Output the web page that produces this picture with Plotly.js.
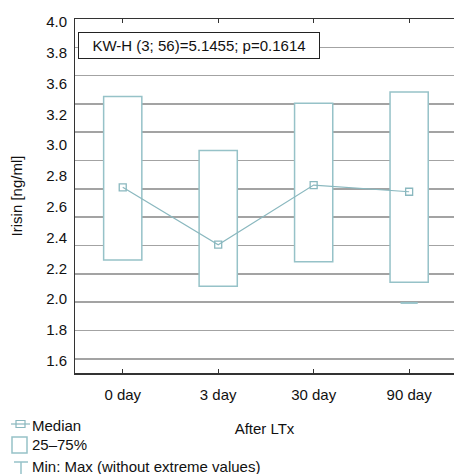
<!DOCTYPE html>
<html>
<head>
<meta charset="utf-8">
<script src="https://cdn.plot.ly/plotly-3.0.1.min.js"></script>
<style>
  html, body { margin: 0; padding: 0; overflow: hidden; background: #fff; }
  #chart { width: 454px; height: 474px; }
</style>
</head>
<body>
<div id="chart"></div>
<script>
// ---- data ----
const categories = ["0 day", "3 day", "30 day", "90 day"];
const q1 = [2.298, 2.113, 2.286, 2.141];      // 25th percentile
const q3 = [3.453, 3.072, 3.405, 3.485];      // 75th percentile
const medians = [2.811, 2.406, 2.827, 2.780];
const whiskerMin = [null, null, null, 1.995]; // only visible cap
const yTickText = ["4.0", "3.8", "3.6", "3.2", "3.0", "2.8", "2.6", "2.4", "2.2", "2.0", "1.8", "1.6"];
// tick-label positions as they appear in the reference (evenly spaced labels)
const yTickVals = [3.979, 3.761, 3.544, 3.326, 3.109, 2.891, 2.674, 2.456, 2.239, 2.021, 1.804, 1.586];
const statText = "KW-H (3; 56)=5.1455; p=0.1614";
const legendLabels = ["Median", "25\u201375%", "Min: Max (without extreme values)"];

// ---- styling ----
const FONT = "'Liberation Sans', Arial, sans-serif";
const FS = 15;
const BOX = "#96c2c8";
const LINE = "#8ab8bf";
const W = 454, H = 474;
const M = {l: 75, r: 0, t: 19, b: 101};
const pw = W - M.l - M.r, ph = H - M.t - M.b;
const px = x => (x - M.l) / pw;
const py = y => (H - M.b - y) / ph;

const xIdx = categories.map((c, i) => i);

const traces = [];
// invisible helper so the label axis (y2) is drawn
traces.push({
  type: "scatter", mode: "markers", x: [xIdx[0]], y: [medians[0]], yaxis: "y2",
  marker: {opacity: 0}, hoverinfo: "skip", showlegend: false
});
traces.push({
  type: "bar",
  x: xIdx,
  base: q1,
  y: q3.map((v, i) => v - q1[i]),
  width: 0.4,
  marker: {color: "#ffffff", line: {color: BOX, width: 1.5}},
  hoverinfo: "skip",
  showlegend: false
});
whiskerMin.forEach((v, i) => {
  if (v === null) return;
  traces.push({
    type: "scatter", mode: "lines",
    x: [i - 0.09, i + 0.09], y: [v, v],
    line: {color: BOX, width: 2},
    hoverinfo: "skip", showlegend: false
  });
});
traces.push({
  type: "scatter",
  mode: "lines+markers",
  x: xIdx,
  y: medians,
  line: {color: LINE, width: 1.2},
  marker: {symbol: "square-open", size: 7, color: LINE, line: {width: 1.3}},
  hoverinfo: "skip",
  showlegend: false
});

const shapes = [
  // Median legend icon
  {type: "line", xref: "paper", yref: "paper", x0: px(11), x1: px(30), y0: py(424), y1: py(424), line: {color: LINE, width: 1.2}},
  {type: "rect", xref: "paper", yref: "paper", x0: px(16), x1: px(25), y0: py(420.5), y1: py(427.5), line: {color: LINE, width: 1.2}, fillcolor: "rgba(0,0,0,0)"},
  // 25-75% legend icon
  {type: "rect", xref: "paper", yref: "paper", x0: px(12), x1: px(27), y0: py(437), y1: py(453), line: {color: BOX, width: 1.5}, fillcolor: "#ffffff"},
  // Min:Max legend icon
  {type: "line", xref: "paper", yref: "paper", x0: px(14), x1: px(28), y0: py(462), y1: py(462), line: {color: BOX, width: 1.5}},
  {type: "line", xref: "paper", yref: "paper", x0: px(21), x1: px(21), y0: py(462), y1: py(476), line: {color: BOX, width: 1.5}}
];

const annotations = [
  {
    xref: "paper", yref: "paper", x: px(78), y: py(32.3),
    xanchor: "left", yanchor: "top",
    text: statText, showarrow: false,
    font: {family: FONT, size: FS, color: "#111"},
    bgcolor: "#ffffff", bordercolor: "#222", borderwidth: 1, borderpad: 0,
    width: 240, height: 25, align: "center", valign: "middle"
  }
];
const legendY = [425, 445, 466];
legendLabels.forEach((t, i) => {
  annotations.push({
    xref: "paper", yref: "paper", x: px(30), y: py(legendY[i]),
    xanchor: "left", yanchor: "middle", text: t, showarrow: false,
    font: {family: FONT, size: FS, color: "#111"}
  });
});

const layout = {
  width: W, height: H,
  margin: M,
  paper_bgcolor: "#ffffff",
  plot_bgcolor: "#ffffff",
  font: {family: FONT, size: FS, color: "#111"},
  showlegend: false,
  bargap: 0,
  xaxis: {
    range: [-0.5, 3.47],
    tickmode: "array",
    tickvals: xIdx,
    ticktext: categories,
    showgrid: false,
    zeroline: false,
    showline: true, linecolor: "#333", linewidth: 1.5,
    mirror: "ticks",
    ticks: "inside", ticklen: 4, tickwidth: 1, tickcolor: "#333",
    ticklabelstandoff: 7,
    tickfont: {family: FONT, size: FS, color: "#111"},
    title: {text: "After LTx", standoff: 22, font: {family: FONT, size: FS, color: "#111"}},
    fixedrange: true
  },
  // gridlines every 0.2
  yaxis: {
    range: [1.5, 4.0],
    tick0: 0, dtick: 0.2,
    showticklabels: false,
    showgrid: true, gridcolor: "#a3a3a3", gridwidth: 1.6,
    zeroline: false,
    showline: true, linecolor: "#333", linewidth: 1.5,
    ticks: "",
    fixedrange: true
  },
  // tick labels as printed in the reference
  yaxis2: {
    overlaying: "y", side: "left", anchor: "x",
    range: [1.5, 4.0],
    tickmode: "array",
    tickvals: yTickVals,
    ticktext: yTickText,
    showgrid: false, zeroline: false, showline: false,
    ticks: "",
    ticklabelstandoff: 7,
    tickfont: {family: FONT, size: FS, color: "#111"},
    title: {text: "Irisin [ng/ml]", standoff: 19, font: {family: FONT, size: FS, color: "#111"}},
    fixedrange: true
  },
  shapes: shapes,
  annotations: annotations
};

Plotly.newPlot("chart", traces, layout, {displayModeBar: false, staticPlot: true});
</script>
</body>
</html>
